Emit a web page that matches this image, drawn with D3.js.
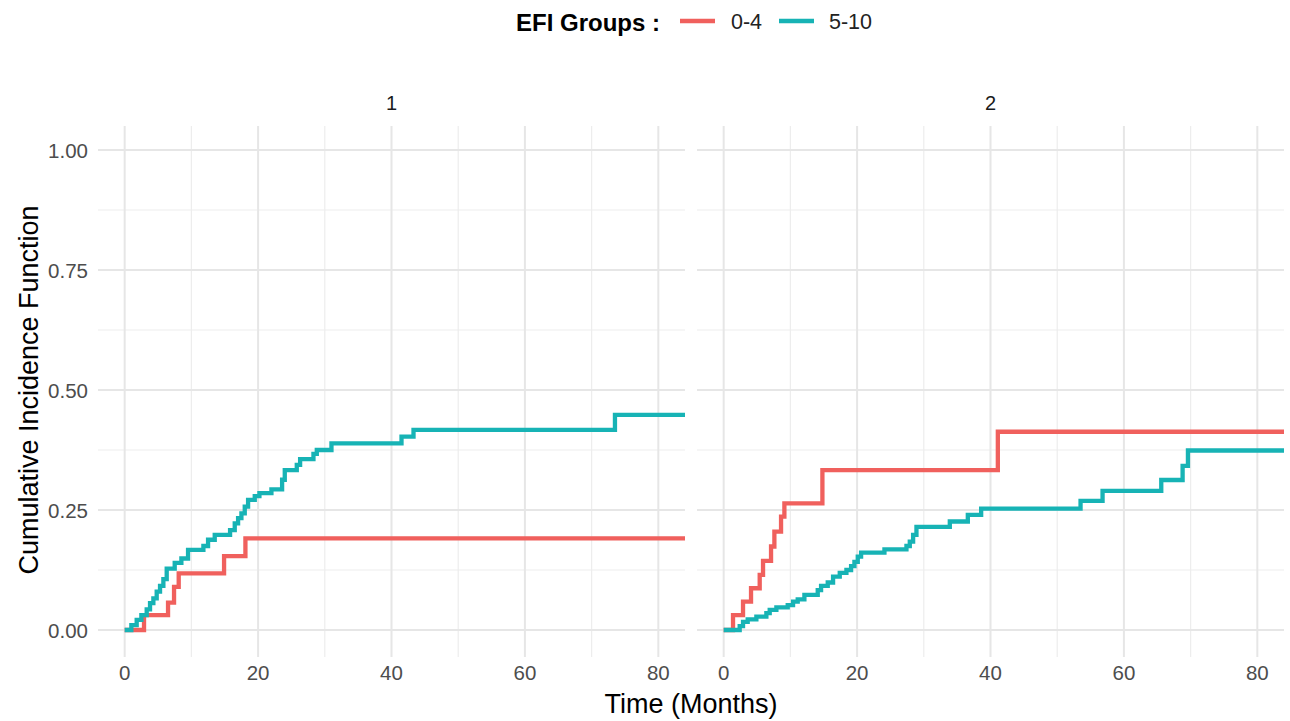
<!DOCTYPE html>
<html>
<head>
<meta charset="utf-8">
<script src="https://cdn.jsdelivr.net/npm/d3@7"></script>
<style>
  body { margin: 0; background: #fff; }
  text { font-family: "Liberation Sans", Arial, sans-serif; }
</style>
</head>
<body>
<div id="chart"></div>
<script>
// step data: [time in months, cumulative incidence]
const groups = ["0-4", "5-10"];
const panels = ["1", "2"];
const colors = ["#F0605D", "#17B3B5"];

const p1Low = [[0, 0], [2.9, 0.031], [6.5, 0.057], [7.4, 0.090], [8.1, 0.118], [14.9, 0.154], [18.1, 0.191]];
const p1High = [[0, 0], [1.0, 0.010], [1.8, 0.021], [2.5, 0.031], [3.3, 0.043], [3.8, 0.056], [4.3, 0.066],
    [4.8, 0.080], [5.3, 0.092], [5.8, 0.106], [6.3, 0.128], [7.5, 0.140], [8.5, 0.149], [9.5, 0.167],
    [11.8, 0.175], [12.5, 0.188], [13.5, 0.198], [15.8, 0.208], [16.5, 0.222], [17.0, 0.233], [17.5, 0.243],
    [18.0, 0.257], [18.5, 0.271], [19.5, 0.279], [20.2, 0.285], [22.0, 0.293], [23.6, 0.313], [24.0, 0.333],
    [25.8, 0.344], [26.3, 0.356], [28.3, 0.367], [28.8, 0.375], [31.0, 0.389], [41.5, 0.403], [43.3, 0.417],
    [73.5, 0.448]];
const p2Low = [[0, 0], [1.4, 0.031], [2.9, 0.059], [4.1, 0.087], [5.4, 0.115], [5.9, 0.144], [7.1, 0.174],
    [7.6, 0.205], [8.6, 0.236], [9.1, 0.264], [14.8, 0.333], [41.1, 0.413]];
const p2High = [[0, 0], [2.4, 0.008], [2.9, 0.017], [3.6, 0.022], [4.9, 0.028], [6.4, 0.035], [6.9, 0.042],
    [7.9, 0.047], [9.6, 0.052], [10.4, 0.059], [11.1, 0.064], [12.1, 0.073], [14.1, 0.083], [14.6, 0.092],
    [15.6, 0.099], [16.4, 0.111], [17.4, 0.119], [18.4, 0.125], [19.1, 0.133], [19.6, 0.142], [20.1, 0.153],
    [20.6, 0.161], [24.1, 0.168], [27.4, 0.175], [27.9, 0.184], [28.4, 0.198], [28.9, 0.215], [33.9, 0.226],
    [36.6, 0.240], [38.6, 0.253], [53.5, 0.269], [56.8, 0.290], [65.6, 0.3125], [68.8, 0.342], [69.6, 0.374]];
const followUpEnd = 90;

const xTicks = [0, 20, 40, 60, 80];
const xMinor = [10, 30, 50, 70];
const yTicks = [0, 0.25, 0.5, 0.75, 1];
const yMinor = [0.125, 0.375, 0.625, 0.875];

const seriesByPanel = [[p1Low, p1High], [p2Low, p2High]];

const W = 1290, H = 721;
const panelTop = 126, panelBottom = 654;
const panelLeft = [98, 697], panelWidth = 587;

const svg = d3.select("#chart").append("svg")
    .attr("width", W)
    .attr("height", H);

const y = d3.scaleLinear().domain([-0.05, 1.05]).range([panelBottom, panelTop]);

// legend
const legend = svg.append("g");
legend.append("text")
    .attr("x", 516).attr("y", 31)
    .attr("font-size", 24).attr("font-weight", "bold").attr("fill", "#000")
    .text("EFI Groups :");
const keyX = [680, 779], labX = [731, 829];
groups.forEach((g, i) => {
    legend.append("line")
        .attr("x1", keyX[i]).attr("x2", keyX[i] + 35)
        .attr("y1", 21).attr("y2", 21)
        .attr("stroke", colors[i]).attr("stroke-width", 4.5);
    legend.append("text")
        .attr("x", labX[i]).attr("y", 29)
        .attr("font-size", 21.5).attr("fill", "#222")
        .text(g);
});

const defs = svg.append("defs");

panels.forEach((p, pi) => {
    const x = d3.scaleLinear().domain([-4, 84]).range([panelLeft[pi], panelLeft[pi] + panelWidth]);
    const g = svg.append("g");

    defs.append("clipPath").attr("id", "clip" + pi)
        .append("rect")
        .attr("x", panelLeft[pi]).attr("y", panelTop - 5)
        .attr("width", panelWidth).attr("height", panelBottom - panelTop + 10);

    // grid
    g.selectAll(".ymin").data(yMinor).enter().append("line")
        .attr("x1", x.range()[0]).attr("x2", x.range()[1])
        .attr("y1", d => y(d)).attr("y2", d => y(d))
        .attr("stroke", "#ededed").attr("stroke-width", 1.2);
    g.selectAll(".xmin").data(xMinor).enter().append("line")
        .attr("x1", d => x(d)).attr("x2", d => x(d))
        .attr("y1", panelTop).attr("y2", panelBottom + 3)
        .attr("stroke", "#ededed").attr("stroke-width", 1.2);
    g.selectAll(".ymaj").data(yTicks).enter().append("line")
        .attr("x1", x.range()[0]).attr("x2", x.range()[1])
        .attr("y1", d => y(d)).attr("y2", d => y(d))
        .attr("stroke", "#e6e6e6").attr("stroke-width", 2);
    g.selectAll(".xmaj").data(xTicks).enter().append("line")
        .attr("x1", d => x(d)).attr("x2", d => x(d))
        .attr("y1", panelTop).attr("y2", panelBottom + 3)
        .attr("stroke", "#e6e6e6").attr("stroke-width", 2);

    // strip label
    g.append("text")
        .attr("x", panelLeft[pi] + panelWidth / 2).attr("y", 110)
        .attr("text-anchor", "middle").attr("font-size", 20).attr("fill", "#1a1a1a")
        .text(p);

    // x tick labels
    g.selectAll(".xlab").data(xTicks).enter().append("text")
        .attr("x", d => x(d)).attr("y", 680)
        .attr("text-anchor", "middle").attr("font-size", 20.5).attr("fill", "#4d4d4d")
        .text(d => d);

    // y tick labels on first panel only
    if (pi === 0) {
        g.selectAll(".ylab").data(yTicks).enter().append("text")
            .attr("x", 88).attr("y", d => y(d) + 7.5)
            .attr("text-anchor", "end").attr("font-size", 20.5).attr("fill", "#4d4d4d")
            .text(d => d3.format(".2f")(d));
    }

    const line = d3.line()
        .x(d => x(d[0]))
        .y(d => y(d[1]))
        .curve(d3.curveStepAfter);

    seriesByPanel[pi].forEach((s, si) => {
        const pts = s.concat([[followUpEnd, s[s.length - 1][1]]]);
        g.append("path")
            .datum(pts)
            .attr("clip-path", "url(#clip" + pi + ")")
            .attr("fill", "none")
            .attr("stroke", colors[si])
            .attr("stroke-width", 4.3)
            .attr("d", line);
    });
});

// axis titles
svg.append("text")
    .attr("x", 691).attr("y", 713)
    .attr("text-anchor", "middle").attr("font-size", 27).attr("fill", "#000")
    .text("Time (Months)");
svg.append("text")
    .attr("transform", "translate(38," + y(0.5) + ") rotate(-90)")
    .attr("text-anchor", "middle").attr("font-size", 27).attr("fill", "#000")
    .text("Cumulative Incidence Function");
</script>
</body>
</html>
